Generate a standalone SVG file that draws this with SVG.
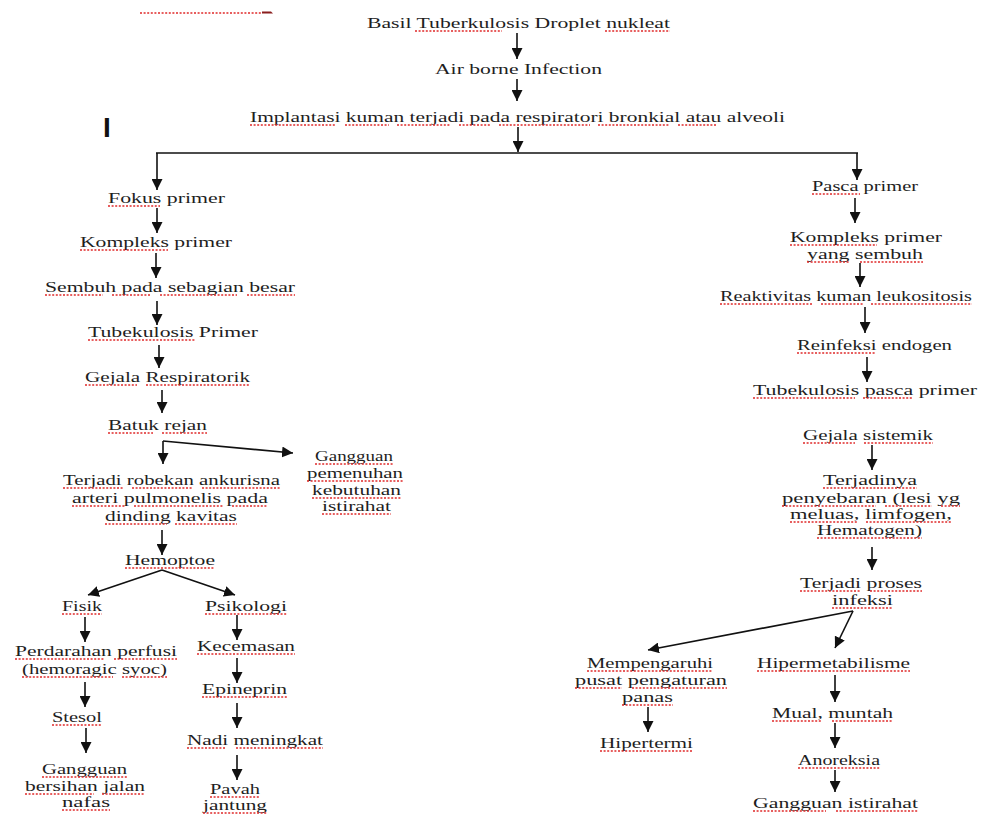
<svg xmlns="http://www.w3.org/2000/svg" width="982" height="814" viewBox="0 0 982 814">
<style>
text { font-family: "Liberation Serif", "Times New Roman", serif; font-size: 15px; fill: #1e1e1e; }
.sq { stroke: #e02a2a; stroke-width: 1.7; stroke-dasharray: 2 1.6; fill: none; }
.c line { stroke: #111; stroke-width: 1.6; fill: none; }
.a { marker-end: url(#ah); }
</style>
<defs>
<marker id="ah" markerUnits="userSpaceOnUse" markerWidth="11" markerHeight="11" refX="10" refY="5" orient="auto" viewBox="0 0 10 10">
<path d="M0,0 L10,5 L0,10 z" fill="#111"/>
</marker>
</defs>
<rect width="982" height="814" fill="#fff"/>

<line class="sq" x1="140" y1="13" x2="262" y2="13"/>
<path d="M262,11.5 h9 l2,2 h-11 z" fill="#8a1d1d"/>
<text x="103" y="137" style="font-family:'Liberation Sans',Arial,sans-serif;font-size:28px;font-weight:bold;fill:#111">I</text>

<g class="c" id="connectors">
<line class="a" x1="517" y1="33" x2="517" y2="59"/>
<line class="a" x1="517" y1="79" x2="517" y2="101"/>
<line class="a" x1="518" y1="127" x2="518" y2="152"/>
<line x1="156" y1="153" x2="858" y2="153"/>
<line class="a" x1="157" y1="153" x2="157" y2="190"/>
<line class="a" x1="857" y1="153" x2="857" y2="180"/>
<line class="a" x1="157" y1="208" x2="157" y2="233"/>
<line class="a" x1="156" y1="253" x2="156" y2="278"/>
<line class="a" x1="157" y1="301" x2="157" y2="325"/>
<line class="a" x1="159" y1="345" x2="159" y2="368"/>
<line class="a" x1="162" y1="390" x2="162" y2="413"/>
<line class="a" x1="163" y1="441" x2="163" y2="464"/>
<line class="a" x1="163" y1="441" x2="293" y2="453"/>
<line class="a" x1="162" y1="530" x2="162" y2="555"/>
<line class="a" x1="162" y1="570" x2="88" y2="595"/>
<line class="a" x1="162" y1="570" x2="235" y2="595"/>
<line class="a" x1="85" y1="617" x2="85" y2="642"/>
<line class="a" x1="85" y1="682" x2="85" y2="707"/>
<line class="a" x1="86" y1="728" x2="86" y2="753"/>
<line class="a" x1="237" y1="615" x2="237" y2="640"/>
<line class="a" x1="237" y1="658" x2="237" y2="683"/>
<line class="a" x1="237" y1="703" x2="237" y2="728"/>
<line class="a" x1="237" y1="755" x2="237" y2="780"/>
<line class="a" x1="855" y1="198" x2="855" y2="223"/>
<line class="a" x1="860" y1="263" x2="860" y2="287"/>
<line class="a" x1="865" y1="307" x2="865" y2="333"/>
<line class="a" x1="867" y1="357" x2="867" y2="382"/>
<line class="a" x1="872" y1="445" x2="872" y2="470"/>
<line class="a" x1="872" y1="547" x2="872" y2="570"/>
<line class="a" x1="853" y1="611" x2="648" y2="650"/>
<line class="a" x1="853" y1="611" x2="835" y2="648"/>
<line class="a" x1="648" y1="707" x2="648" y2="732"/>
<line class="a" x1="835" y1="675" x2="835" y2="702"/>
<line class="a" x1="835" y1="723" x2="835" y2="748"/>
<line class="a" x1="835" y1="770" x2="835" y2="792"/>
</g>

<g id="n-basil"><text x="367" y="28" textLength="303" lengthAdjust="spacingAndGlyphs">Basil Tuberkulosis Droplet nukleat</text>
<path class="sq" d="M415,31H502M605,31H670"/></g>
<g id="n-airborne"><text x="435" y="74" textLength="167" lengthAdjust="spacingAndGlyphs">Air borne Infection</text></g>
<g id="n-implantasi"><text x="250" y="122" textLength="535" lengthAdjust="spacingAndGlyphs">Implantasi kuman terjadi pada respiratori bronkial atau alveoli</text>
<path class="sq" d="M250,125H336M345,125H389M397,125H451M459,125H491M499,125H590M598,125H670M678,125H716"/></g>

<g id="n-fokus"><text x="108" y="203" textLength="117" lengthAdjust="spacingAndGlyphs">Fokus primer</text>
<path class="sq" d="M108,206H160"/></g>
<g id="n-kompleks"><text x="80" y="247" textLength="152" lengthAdjust="spacingAndGlyphs">Kompleks primer</text>
<path class="sq" d="M80,250H168"/></g>
<g id="n-sembuh"><text x="45" y="292" textLength="250" lengthAdjust="spacingAndGlyphs">Sembuh pada sebagian besar</text>
<path class="sq" d="M45,295H103M112,295H151M160,295H237M247,295H295"/></g>
<g id="n-tbprimer"><text x="88" y="337" textLength="170" lengthAdjust="spacingAndGlyphs">Tubekulosis Primer</text>
<path class="sq" d="M88,340H195"/></g>
<g id="n-gejalaresp"><text x="85" y="382" textLength="165" lengthAdjust="spacingAndGlyphs">Gejala Respiratorik</text>
<path class="sq" d="M85,385H137M146,385H250"/></g>
<g id="n-batuk"><text x="108" y="430" textLength="99" lengthAdjust="spacingAndGlyphs">Batuk rejan</text>
<path class="sq" d="M108,433H153M162,433H207"/></g>
<g id="n-robekan">
<text x="63" y="485" textLength="217" lengthAdjust="spacingAndGlyphs">Terjadi robekan ankurisna</text>
<text x="72" y="503" textLength="196" lengthAdjust="spacingAndGlyphs">arteri pulmonelis pada</text>
<text x="105" y="521" textLength="132" lengthAdjust="spacingAndGlyphs">dinding kavitas</text>
<path class="sq" d="M63,488H124M132,488H193M202,488H280M72,506H125M134,506H223M232,506H268M105,524H167M175,524H237"/>
</g>
<g id="n-gangguan-istirahat">
<text x="315" y="461" textLength="78" lengthAdjust="spacingAndGlyphs">Gangguan</text>
<text x="307" y="478" textLength="96" lengthAdjust="spacingAndGlyphs">pemenuhan</text>
<text x="312" y="495" textLength="89" lengthAdjust="spacingAndGlyphs">kebutuhan</text>
<text x="322" y="511" textLength="69" lengthAdjust="spacingAndGlyphs">istirahat</text>
<path class="sq" d="M315,464H393M307,481H403M312,498H401M322,514H391"/>
</g>
<g id="n-hemoptoe"><text x="125" y="565" textLength="90" lengthAdjust="spacingAndGlyphs">Hemoptoe</text>
<path class="sq" d="M125,568H215"/></g>
<g id="n-fisik"><text x="62" y="611" textLength="40" lengthAdjust="spacingAndGlyphs">Fisik</text>
<path class="sq" d="M62,614H102"/></g>
<g id="n-psikologi"><text x="205" y="611" textLength="82" lengthAdjust="spacingAndGlyphs">Psikologi</text>
<path class="sq" d="M205,614H287"/></g>
<g id="n-perdarahan">
<text x="15" y="656" textLength="162" lengthAdjust="spacingAndGlyphs">Perdarahan perfusi</text>
<text x="22" y="674" textLength="145" lengthAdjust="spacingAndGlyphs">(hemoragic syoc)</text>
<path class="sq" d="M15,659H105M114,659H177M22,677H113M122,677H167"/>
</g>
<g id="n-stesol"><text x="52" y="722" textLength="50" lengthAdjust="spacingAndGlyphs">Stesol</text>
<path class="sq" d="M52,725H102"/></g>
<g id="n-gangguan-nafas">
<text x="42" y="774" textLength="85" lengthAdjust="spacingAndGlyphs">Gangguan</text>
<text x="25" y="791" textLength="120" lengthAdjust="spacingAndGlyphs">bersihan jalan</text>
<text x="62" y="807" textLength="48" lengthAdjust="spacingAndGlyphs">nafas</text>
<path class="sq" d="M42,777H127M25,794H94M102,794H145M62,810H110"/>
</g>
<g id="n-kecemasan"><text x="197" y="651" textLength="98" lengthAdjust="spacingAndGlyphs">Kecemasan</text>
<path class="sq" d="M197,654H295"/></g>
<g id="n-epineprin"><text x="202" y="694" textLength="85" lengthAdjust="spacingAndGlyphs">Epineprin</text>
<path class="sq" d="M202,697H287"/></g>
<g id="n-nadi"><text x="187" y="745" textLength="136" lengthAdjust="spacingAndGlyphs">Nadi meningkat</text>
<path class="sq" d="M187,748H226M236,748H323"/></g>
<g id="n-payah">
<text x="210" y="794" textLength="50" lengthAdjust="spacingAndGlyphs">Pavah</text>
<text x="203" y="810" textLength="64" lengthAdjust="spacingAndGlyphs">jantung</text>
<path class="sq" d="M210,797H260M203,813H267"/>
</g>

<g id="n-pasca"><text x="812" y="191" textLength="106" lengthAdjust="spacingAndGlyphs">Pasca primer</text>
<path class="sq" d="M812,194H860"/></g>
<g id="n-kompleks-sembuh">
<text x="790" y="242" textLength="152" lengthAdjust="spacingAndGlyphs">Kompleks primer</text>
<text x="807" y="259" textLength="116" lengthAdjust="spacingAndGlyphs">yang sembuh</text>
<path class="sq" d="M790,245H877M807,262H849M860,262H923"/>
</g>
<g id="n-reaktivitas"><text x="720" y="301" textLength="252" lengthAdjust="spacingAndGlyphs">Reaktivitas kuman leukositosis</text>
<path class="sq" d="M720,304H812M821,304H863M871,304H972"/></g>
<g id="n-reinfeksi"><text x="797" y="350" textLength="155" lengthAdjust="spacingAndGlyphs">Reinfeksi endogen</text>
<path class="sq" d="M797,353H876"/></g>
<g id="n-tbpasca"><text x="753" y="395" textLength="224" lengthAdjust="spacingAndGlyphs">Tubekulosis pasca primer</text>
<path class="sq" d="M753,398H855M863,398H913"/></g>
<g id="n-gejalasis"><text x="803" y="440" textLength="130" lengthAdjust="spacingAndGlyphs">Gejala sistemik</text>
<path class="sq" d="M803,443H855M864,443H933"/></g>
<g id="n-penyebaran">
<text x="823" y="485" textLength="94" lengthAdjust="spacingAndGlyphs">Terjadinya</text>
<text x="782" y="503" textLength="178" lengthAdjust="spacingAndGlyphs">penyebaran (lesi yg</text>
<text x="790" y="519" textLength="162" lengthAdjust="spacingAndGlyphs">meluas, limfogen,</text>
<text x="817" y="535" textLength="105" lengthAdjust="spacingAndGlyphs">Hematogen)</text>
<path class="sq" d="M823,488H917M782,506H876M885,506H932M941,506H960M790,522H857M866,522H952M817,538H922"/>
</g>
<g id="n-proses">
<text x="800" y="588" textLength="122" lengthAdjust="spacingAndGlyphs">Terjadi proses</text>
<text x="832" y="605" textLength="61" lengthAdjust="spacingAndGlyphs">infeksi</text>
<path class="sq" d="M800,591H861M870,591H922M832,608H893"/>
</g>
<g id="n-mempengaruhi">
<text x="587" y="668" textLength="126" lengthAdjust="spacingAndGlyphs">Mempengaruhi</text>
<text x="575" y="685" textLength="152" lengthAdjust="spacingAndGlyphs">pusat pengaturan</text>
<text x="622" y="702" textLength="51" lengthAdjust="spacingAndGlyphs">panas</text>
<path class="sq" d="M587,671H713M575,688H622M632,688H727M622,705H673"/>
</g>
<g id="n-hipertermi"><text x="600" y="748" textLength="93" lengthAdjust="spacingAndGlyphs">Hipertermi</text>
<path class="sq" d="M600,751H693"/></g>
<g id="n-hipermet"><text x="757" y="668" textLength="153" lengthAdjust="spacingAndGlyphs">Hipermetabilisme</text>
<path class="sq" d="M757,671H910"/></g>
<g id="n-mual"><text x="772" y="718" textLength="121" lengthAdjust="spacingAndGlyphs">Mual, muntah</text>
<path class="sq" d="M772,721H822M832,721H893"/></g>
<g id="n-anoreksia"><text x="798" y="765" textLength="82" lengthAdjust="spacingAndGlyphs">Anoreksia</text>
<path class="sq" d="M798,768H880"/></g>
<g id="n-gangguan-ist2"><text x="753" y="808" textLength="165" lengthAdjust="spacingAndGlyphs">Gangguan istirahat</text>
<path class="sq" d="M753,811H826M836,811H918"/></g>
</svg>
